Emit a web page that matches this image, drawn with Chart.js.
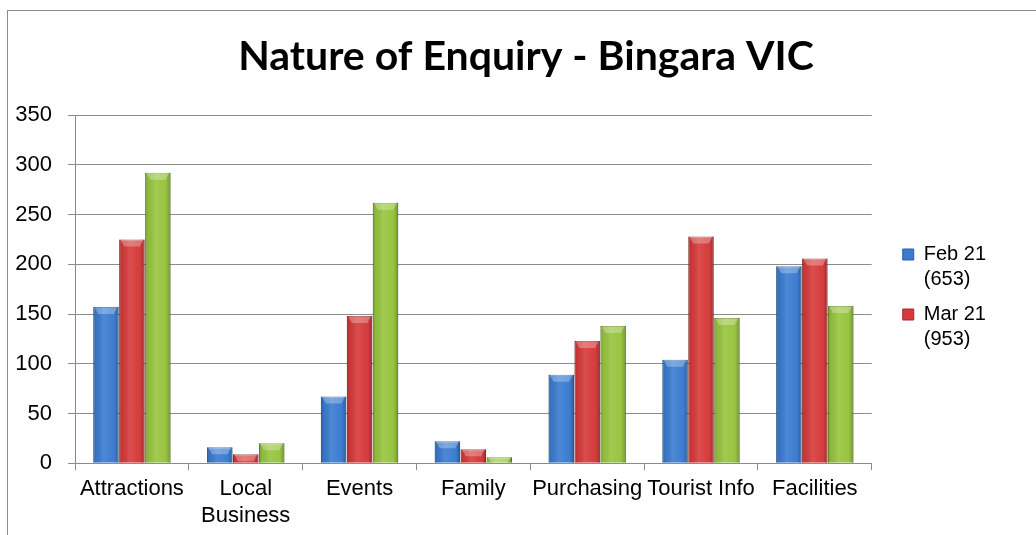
<!DOCTYPE html>
<html>
<head>
<meta charset="utf-8">
<script src="https://cdn.jsdelivr.net/npm/chart.js@4.4.1/dist/chart.umd.min.js"></script>
<style>
  html, body { margin: 0; padding: 0; background: #ffffff; overflow: hidden; }
  #wrap { position: relative; width: 1036px; height: 535px; }
  canvas { display: block; }
</style>
</head>
<body>
<div id="wrap"><canvas id="c" width="1036" height="535"></canvas></div>
<script>
const titleText = 'Nature of Enquiry - Bingara VIC';
const categories = ['Attractions', ['Local', 'Business'], 'Events', 'Family', 'Purchasing', 'Tourist Info', 'Facilities'];
const febLabel = ['Feb 21', '(653)'];
const marLabel = ['Mar 21', '(953)'];
const thirdLabel = 'Series 3';
const febValues = [157, 16, 67, 22, 89, 104, 198];
const marValues = [225, 9, 148, 14, 123, 228, 206];
const thirdValues = [292, 20, 262, 6, 138, 146, 158];
const yTicks = [0, 50, 100, 150, 200, 250, 300, 350];

const frame = {
  id: 'frame',
  beforeDraw(chart) {
    const ctx = chart.ctx;
    ctx.save();
    ctx.fillStyle = '#ffffff';
    ctx.fillRect(0, 0, chart.width, chart.height);
    ctx.strokeStyle = '#8c8c8c';
    ctx.lineWidth = 1;
    ctx.strokeRect(7.5, 10.5, 2000, 2000);
    ctx.restore();
  }
};

// The reference frame is cropped on the right, so its title is centred on the
// full (wider) frame; the legend sits a little below the middle.
const boxShift = {
  id: 'boxShift',
  afterLayout(chart) {
    const lg = chart.legend;
    if (lg) { lg.top += 32; lg.bottom += 32; }
    const tb = chart.titleBlock;
    if (tb) { tb.left += 23; tb.right += 23; }
  }
};

const bevel = {
  id: 'bevel',
  afterDatasetsDraw(chart) {
    const ctx = chart.ctx;
    ctx.save();
    chart.data.datasets.forEach((ds, di) => {
      const meta = chart.getDatasetMeta(di);
      if (meta.hidden) return;
      meta.data.forEach(bar => {
        const l = bar.x - bar.width / 2, r = bar.x + bar.width / 2;
        const t = Math.min(bar.y, bar.base), b = Math.max(bar.y, bar.base);
        const h = b - t;
        if (h <= 0) return;
        const g = ctx.createLinearGradient(l, 0, r, 0);
        g.addColorStop(0, 'rgba(0,0,0,0.22)');
        g.addColorStop(0.12, 'rgba(0,0,0,0.05)');
        g.addColorStop(0.4, 'rgba(255,255,255,0.10)');
        g.addColorStop(0.75, 'rgba(255,255,255,0.02)');
        g.addColorStop(0.9, 'rgba(0,0,0,0.10)');
        g.addColorStop(1, 'rgba(0,0,0,0.28)');
        ctx.fillStyle = g;
        ctx.fillRect(l, t, r - l, h);
        const ch = Math.min(7, h);
        ctx.beginPath();
        ctx.moveTo(l + 1, t);
        ctx.lineTo(r - 1, t);
        ctx.lineTo(r - 5, t + ch);
        ctx.lineTo(l + 5, t + ch);
        ctx.closePath();
        ctx.fillStyle = 'rgba(255,255,255,0.28)';
        ctx.fill();
      });
    });
    ctx.restore();
  }
};

const labelFont = { family: "'Liberation Sans', Arial, sans-serif", size: 22, lineHeight: 1.2 };

new Chart(document.getElementById('c'), {
  type: 'bar',
  data: {
    labels: categories,
    datasets: [
      { label: febLabel, data: febValues, backgroundColor: '#3a7bd0', borderColor: '#2c5f9f', borderWidth: 1 },
      { label: marLabel, data: marValues, backgroundColor: '#d63a3a', borderColor: '#a32b2b', borderWidth: 1 },
      { label: thirdLabel, data: thirdValues, backgroundColor: '#97c43e', borderColor: '#6f952b', borderWidth: 1 }
    ]
  },
  options: {
    responsive: false,
    animation: false,
    devicePixelRatio: 1,
    layout: { padding: { left: 10, right: 40, top: 0, bottom: 0 } },
    datasets: { bar: { categoryPercentage: 0.684, barPercentage: 0.98 } },
    plugins: {
      title: {
        display: true,
        text: titleText,
        color: '#000000',
        font: { family: "Lato, 'Open Sans', sans-serif", size: 41, weight: 'bold', lineHeight: 1.2 },
        padding: { top: 32, bottom: 34 }
      },
      legend: {
        position: 'right',
        align: 'center',
        labels: {
          color: '#000000',
          boxWidth: 11,
          boxHeight: 11,
          padding: 10,
          font: { family: "'Liberation Sans', Arial, sans-serif", size: 20, lineHeight: 1.25 },
          filter: (item) => item.datasetIndex < 2
        }
      },
      tooltip: { enabled: false }
    },
    scales: {
      x: {
        grid: { display: true, drawOnChartArea: false, drawTicks: true, tickLength: 7, color: '#8c8c8c', offset: true },
        border: { display: true, color: '#8c8c8c', width: 1 },
        ticks: { color: '#000000', font: labelFont, padding: 6, maxRotation: 0, autoSkip: false }
      },
      y: {
        min: 0,
        max: 350,
        afterBuildTicks(scale) { scale.ticks = yTicks.map(v => ({ value: v })); },
        afterFit(scale) { scale.width = 65; },
        grid: { display: true, drawOnChartArea: true, drawTicks: true, tickLength: 7, color: '#8c8c8c' },
        border: { display: true, color: '#8c8c8c', width: 1 },
        ticks: { color: '#000000', font: labelFont, padding: 16 }
      },
      gap: {
        type: 'linear',
        position: 'right',
        display: true,
        grid: { display: false, drawTicks: false },
        border: { display: false },
        ticks: { display: false },
        afterFit(scale) { scale.width = 21; }
      }
    }
  },
  plugins: [frame, boxShift, bevel]
});
</script>
</body>
</html>
